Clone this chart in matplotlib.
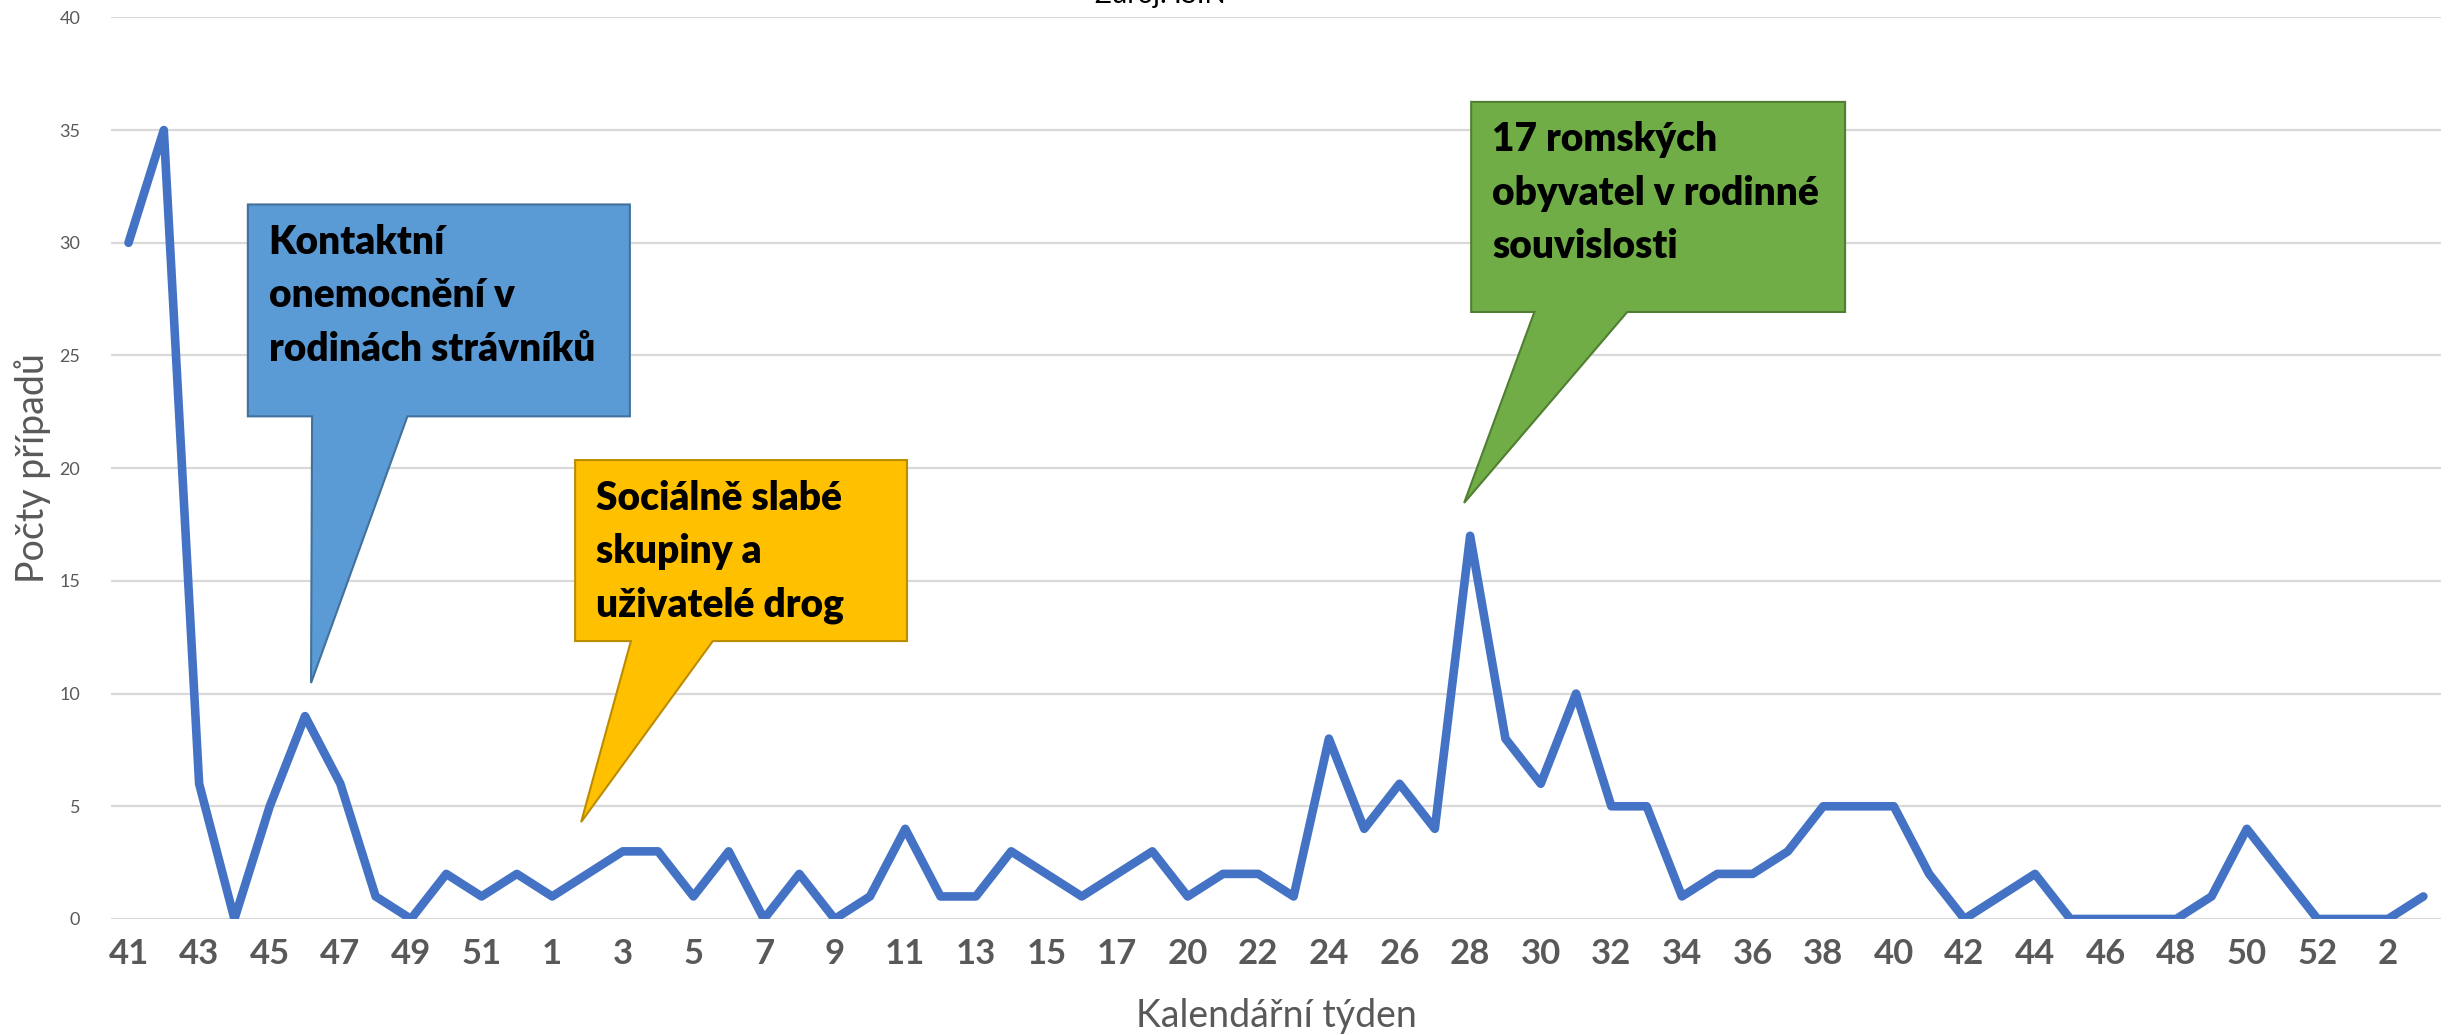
import matplotlib

matplotlib.use("Agg")
import matplotlib.pyplot as plt
from matplotlib.patches import Polygon

# calendar weeks 41/2019 .. 3/2021 (one spring week missing in the source)
weeks = (
    list(range(41, 53))
    + list(range(1, 19))
    + list(range(20, 53))
    + [1, 2, 3]
)
cases = [
    30, 35, 6, 0, 5, 9, 6, 1, 0, 2, 1, 2,
    1, 2, 3, 3, 1, 3, 0, 2, 0, 1, 4, 1, 1, 3, 2, 1, 2, 3,
    1, 2, 2, 1, 8, 4, 6, 4, 17, 8, 6, 10, 5, 5, 1, 2, 2, 3, 5, 5, 5,
    2, 0, 1, 2, 0, 0, 0, 0, 1, 4, 2, 0,
    0, 0, 1,
]

callout_texts = [
    "Kontaktní\nonemocnění v\nrodinách strávníků",
    "Sociálně slabé\nskupiny a\nuživatelé drog",
    "17 romských\nobyvatel v rodinné\nsouvislosti",
]
# box (x0, x1, y0, y1), pointer base (x0, x1), pointer tip (x, y) in data units
callout_boxes = [(3.38, 14.2, 22.3, 31.7), (12.65, 22.05, 12.33, 20.36), (38.03, 48.62, 26.93, 36.25)]
callout_bases = [(5.2, 7.9), (14.23, 16.55), (39.82, 42.45)]
callout_tips = [(5.17, 10.47), (12.82, 4.30), (37.83, 18.46)]
callout_fill = ["#5B9BD5", "#FFC000", "#70AD47"]
callout_edge = ["#41719C", "#BC8C00", "#507E32"]

plt.rcParams["font.family"] = ["Lato", "DejaVu Sans"]
grey = "#595959"

fig = plt.figure(figsize=(24.58, 10.35), dpi=100)
ax = fig.add_axes([0.0451, 0.1121, 0.948, 0.8711])

x = list(range(len(cases)))
ax.plot(x, cases, color="#4472C4", lw=6.2, solid_joinstyle="round",
        solid_capstyle="round", zorder=3)

ax.set_xlim(-0.5, len(cases) - 0.5)
ax.set_ylim(0, 40)
ax.set_yticks(range(0, 41, 5))
ax.set_xticks(x[::2])
ax.set_xticklabels([str(w) for w in weeks[::2]])
ax.grid(axis="y", color="#D9D9D9", lw=1.6, zorder=0)
ax.set_axisbelow(True)
for s in ax.spines.values():
    s.set_visible(False)
ax.tick_params(axis="x", length=0, pad=14, labelsize=25, labelcolor=grey)
ax.tick_params(axis="y", length=0, pad=22, labelsize=13, labelcolor=grey)
for lab in ax.get_xticklabels():
    lab.set_fontweight("bold")

ax.set_xlabel("Kalendářní týden", fontsize=27, color=grey, labelpad=20)
ax.set_ylabel("Počty případů", fontsize=27, color=grey, labelpad=6)

fig.text(0.472, 1 - 3 / 1035, "Zdroj: ISIN", fontsize=20, ha="center", va="baseline")

for txt, box, base, tip, fc, ec in zip(callout_texts, callout_boxes, callout_bases,
                                      callout_tips, callout_fill, callout_edge):
    x0, x1, y0, y1 = box
    verts = [(x0, y1), (x1, y1), (x1, y0), (base[1], y0), tip, (base[0], y0), (x0, y0)]
    ax.add_patch(Polygon(verts, closed=True, facecolor=fc, edgecolor=ec, lw=1.5, zorder=4))
    ax.annotate(txt, (x0, y1), xytext=(15, -14), textcoords="offset points",
                ha="left", va="top", fontsize=28, fontweight="heavy", color="black",
                linespacing=1.55, zorder=5)

fig.savefig("out.png", dpi=100)
